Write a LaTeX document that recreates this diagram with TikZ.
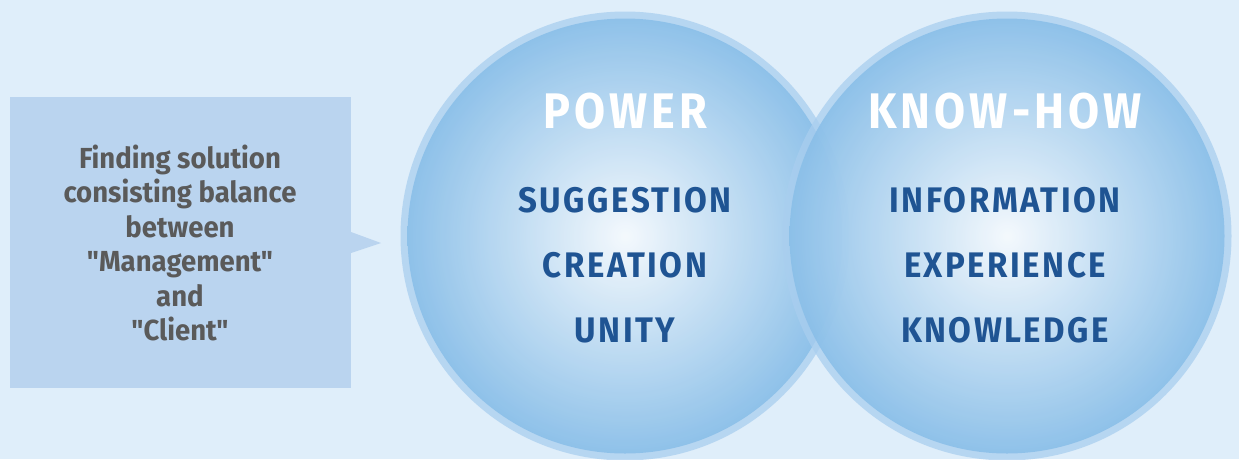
\documentclass[tikz,border=0pt]{standalone}
\usepackage{fontspec}
\setmainfont[FakeStretch=0.95,Ligatures=TeXOff]{Fira Sans}
\newfontfamily\headfont[FakeStretch=0.9,LetterSpace=8]{Fira Sans}
\newfontfamily\itemfont[FakeStretch=0.93,LetterSpace=7]{Fira Sans}
\usetikzlibrary{positioning}

\definecolor{bgblue}{HTML}{DFEEFA}
\definecolor{boxblue}{HTML}{BAD4EF}
\definecolor{ringblue}{HTML}{A9CEEF}
\definecolor{edgeblue}{HTML}{88BEE8}
\definecolor{darkblue}{HTML}{1F5493}
\definecolor{textgray}{HTML}{5A5A5A}

\tikzset{
  ring/.style={fill=ringblue,fill opacity=0.75},
  ball/.style={inner color=white,outer color=edgeblue,opacity=0.85},
  head/.style={text=white,font=\headfont\bfseries\fontsize{50}{50}\selectfont},
  item/.style={text=darkblue,font=\itemfont\bfseries\fontsize{35.5}{35.5}\selectfont},
  note/.style={text=textgray,align=center,font=\bfseries\fontsize{29}{34.5}\selectfont}
}

\begin{document}
\begin{tikzpicture}[x=1pt,y=-1pt]
      \fill[bgblue] (0,0) rectangle (1239,459);
      \useasboundingbox (0,0) rectangle (1239,459);
      % callout box
      \fill[boxblue] (10,97) rectangle (351,388);
      \fill[boxblue] (351,232)--(381,243)--(351,253)--cycle;
      \node[note] (note) at (180,243) {Finding solution\\consisting balance\\between\\"Management"\\and\\"Client"};
      % circles
      \coordinate (c1) at (625,236);
      \coordinate (c2) at (1007,236);
      \fill[ring] (c1) circle (224.5);
      \shade[ball] (c1) circle (217.5);
      \fill[ring] (c2) circle (224.5);
      \shade[ball] (c2) circle (217.5);
      % left circle text
      \node[head,anchor=base] (power) at (625,128) {POWER};
      \node[item,anchor=base] (sugg) at (625,212) {SUGGESTION};
      \node[item,anchor=base] (crea) at (625,277) {CREATION};
      \node[item,anchor=base] (unity) at (625,342) {UNITY};
      % right circle text
      \node[head,anchor=base] (know) at (1005,128) {KNOW-HOW};
      \node[item,anchor=base] (info) at (1005,212) {INFORMATION};
      \node[item,anchor=base] (expe) at (1005,277) {EXPERIENCE};
      \node[item,anchor=base] (knowl) at (1005,342) {KNOWLEDGE};
\end{tikzpicture}
\end{document}
